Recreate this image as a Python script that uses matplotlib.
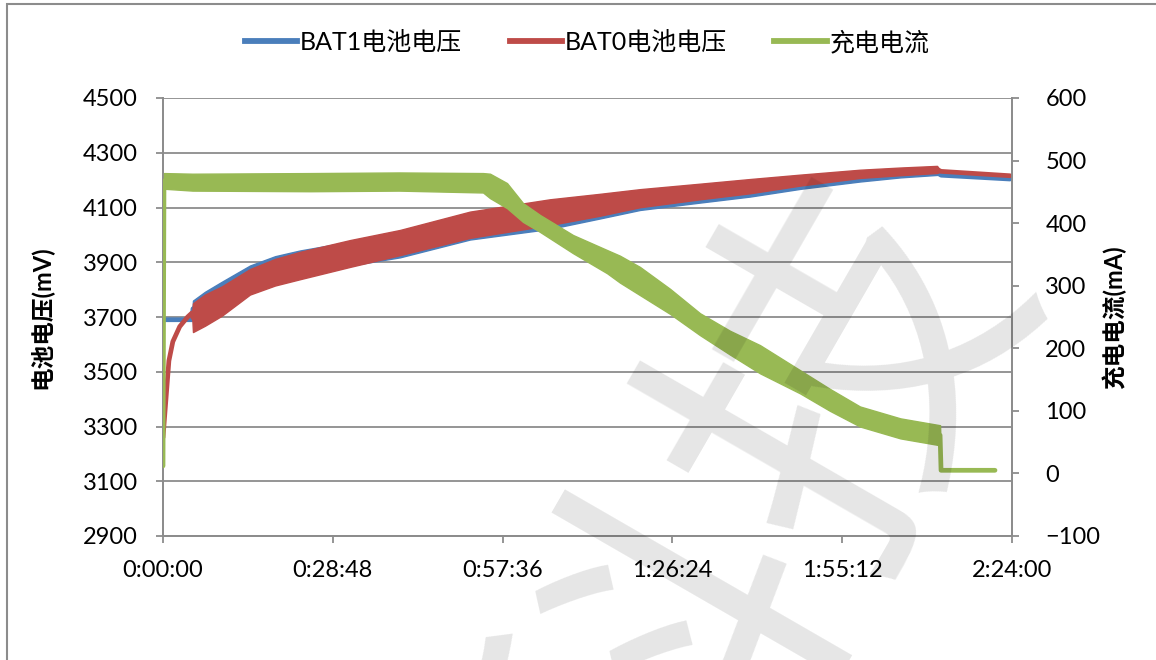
import matplotlib
matplotlib.use("Agg")
import matplotlib.pyplot as plt
from matplotlib.patches import Rectangle
from matplotlib.ticker import FuncFormatter, MultipleLocator, FixedLocator

plt.rcParams["font.family"] = ["Lato", "Noto Sans CJK SC", "DejaVu Sans"]

# 时间 (秒) 与上下包络 — 数据读自原图
bat0_t = [0, 30, 60, 100, 170, 250, 295, 305, 427, 600, 885, 1140, 1394,
          1903, 2412, 3124, 3938, 4447, 4854, 5465, 5974, 6483, 7093, 7504,
          7877, 7918, 8620]
bat0_hi = [3260, 3400, 3540, 3610, 3665, 3700, 3715, 3750, 3782, 3812, 3875,
           3912, 3938, 3981, 4018, 4085, 4130, 4150, 4167, 4187, 4204, 4220,
           4238, 4246, 4252, 4232, 4216]
bat0_lo = [3260, 3400, 3540, 3610, 3665, 3700, 3715, 3645, 3668, 3705, 3782,
           3815, 3838, 3883, 3926, 3989, 4036, 4070, 4101, 4130, 4152, 4180,
           4208, 4218, 4226, 4232, 4216]

bat1_t = [0, 295, 305, 427, 600, 885, 1140, 1394, 1903, 2412, 3124, 3938,
          4447, 4854, 5465, 5974, 6483, 7093, 7504, 7877, 7918, 8620]
bat1_hi = [3690, 3690, 3760, 3792, 3829, 3888, 3922, 3943, 3975, 4005, 4060,
           4105, 4130, 4150, 4172, 4190, 4205, 4225, 4233, 4240, 4218, 4204]
bat1_lo = [3690, 3690, 3700, 3710, 3740, 3800, 3830, 3848, 3888, 3918, 3983,
           4022, 4060, 4091, 4118, 4140, 4168, 4195, 4210, 4219, 4218, 4204]

cur_t = [0, 10, 300, 1500, 2400, 3257, 3328, 3501, 3664, 3837, 4173, 4519,
         4650, 4854, 5160, 5465, 5770, 6076, 6483, 6788, 7093, 7504, 7908,
         7918, 8467]
cur_hi = [12, 480, 479, 480, 481, 480, 479, 464, 432, 413, 381, 357, 348,
          330, 295, 256, 228, 205, 165, 135, 107, 88, 77, 5, 5]
cur_lo = [12, 455, 452, 451, 452, 449, 440, 424, 402, 386, 352, 320, 305,
          285, 255, 221, 190, 160, 128, 100, 75, 56, 45, 5, 5]

volt_ticks = list(range(2900, 4501, 200))

C_BLUE = "#4A7EBB"
C_RED = "#BE4B48"
C_GREEN = "#98B954"
C_GRID = "#8C8C8C"


def hms(v, pos=None):
    v = int(round(v))
    return f"{v // 3600}:{v % 3600 // 60:02d}:{v % 60:02d}"


fig = plt.figure(figsize=(11.56, 6.6), dpi=100)
fig.patch.set_facecolor("white")
fig.patches.append(Rectangle((7 / 1156, -0.2), 1.2, 1.2 - 4 / 660,
                             transform=fig.transFigure, fill=False,
                             edgecolor="#8C8C8C", lw=1.5))

ax = fig.add_axes([163 / 1156, 1 - 536 / 660, 849 / 1156, 438 / 660])
ax2 = ax.twinx()


def band(a, t, lo, hi, color, z):
    mid = [(l + h) / 2 for l, h in zip(lo, hi)]
    a.fill_between(t, lo, hi, color=color, lw=1.0, edgecolor=color, zorder=z)
    a.plot(t, mid, color=color, lw=3.4, solid_capstyle="round", zorder=z)


band(ax, bat1_t, bat1_lo, bat1_hi, C_BLUE, 3)
band(ax, bat0_t, bat0_lo, bat0_hi, C_RED, 4)
band(ax2, cur_t, cur_lo, cur_hi, C_GREEN, 5)

ax.set_xlim(0, 8640)
ax.set_ylim(2900, 4500)
ax.yaxis.set_major_locator(FixedLocator(volt_ticks))
ax.xaxis.set_major_locator(MultipleLocator(1728))
ax.xaxis.set_major_formatter(FuncFormatter(hms))
ax.grid(True, axis="y", color=C_GRID, lw=1.3)
ax.set_axisbelow(True)

ax2.set_ylim(-100, 600)
ax2.yaxis.set_major_locator(MultipleLocator(100))

for a in (ax, ax2):
    for s in a.spines.values():
        s.set_color(C_GRID)
        s.set_linewidth(1.3)
    a.spines["top"].set_visible(False)
    a.tick_params(colors=C_GRID, labelcolor="black", labelsize=17,
                  length=5, width=1.3)
ax.tick_params(axis="x", pad=12)
ax.tick_params(axis="y", pad=13)
ax2.tick_params(axis="y", pad=19)

ax.set_ylabel("电池电压(mV)", fontsize=17, fontweight="bold", labelpad=22)
ax2.set_ylabel("充电电流(mA)", fontsize=17, fontweight="bold", labelpad=1)

handles = [plt.Line2D([], [], color=c, lw=4.2) for c in (C_BLUE, C_RED, C_GREEN)]
fig.legend(handles, ["BAT1电池电压", "BAT0电池电压", "充电电流"],
           loc="center", bbox_to_anchor=(0.508, 1 - 42 / 660), ncol=3,
           frameon=False, fontsize=18, handlelength=2.1, handletextpad=0.1,
           columnspacing=1.9)

# 水印
fig.text(0.66, 0.2, "科技", fontsize=260, color="#000000", alpha=0.10,
         rotation=60, ha="center", va="center", zorder=10)

fig.savefig("out.png", dpi=100, facecolor="white")
